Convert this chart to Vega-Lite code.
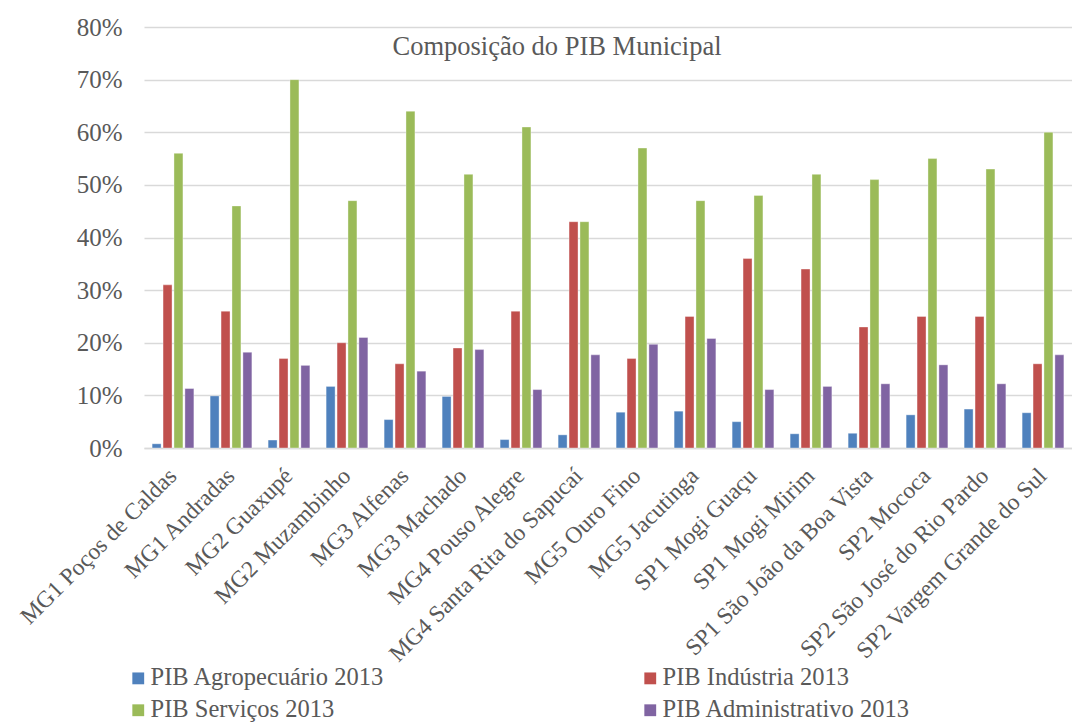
{
  "$schema": "https://vega.github.io/schema/vega-lite/v6.json",
  "width": 928,
  "height": 421,
  "autosize": {"type": "none"},
  "padding": {"left": 144, "top": 27, "right": 0, "bottom": 275},
  "background": "white",
  "title": {
    "text": "Composição do PIB Municipal",
    "font": "Liberation Serif",
    "fontSize": 26.5,
    "fontWeight": "normal",
    "color": "#595959",
    "anchor": "middle",
    "frame": "group",
    "offset": -45,
    "dx": -51
  },
  "config": {
    "view": {"stroke": null},
    "font": "Liberation Serif",
    "axis": {"labelFont": "Liberation Serif", "labelColor": "#595959"}
  },
  "data": {
    "values": [
      {"m": "MG1 Poços de Caldas", "s": "PIB Agropecuário 2013", "v": 0.008},
      {"m": "MG1 Poços de Caldas", "s": "PIB Indústria 2013", "v": 0.31},
      {"m": "MG1 Poços de Caldas", "s": "PIB Serviços 2013", "v": 0.56},
      {"m": "MG1 Poços de Caldas", "s": "PIB Administrativo 2013", "v": 0.113},
      {"m": "MG1 Andradas", "s": "PIB Agropecuário 2013", "v": 0.099},
      {"m": "MG1 Andradas", "s": "PIB Indústria 2013", "v": 0.26},
      {"m": "MG1 Andradas", "s": "PIB Serviços 2013", "v": 0.46},
      {"m": "MG1 Andradas", "s": "PIB Administrativo 2013", "v": 0.182},
      {"m": "MG2 Guaxupé", "s": "PIB Agropecuário 2013", "v": 0.015},
      {"m": "MG2 Guaxupé", "s": "PIB Indústria 2013", "v": 0.17},
      {"m": "MG2 Guaxupé", "s": "PIB Serviços 2013", "v": 0.70},
      {"m": "MG2 Guaxupé", "s": "PIB Administrativo 2013", "v": 0.157},
      {"m": "MG2 Muzambinho", "s": "PIB Agropecuário 2013", "v": 0.117},
      {"m": "MG2 Muzambinho", "s": "PIB Indústria 2013", "v": 0.20},
      {"m": "MG2 Muzambinho", "s": "PIB Serviços 2013", "v": 0.47},
      {"m": "MG2 Muzambinho", "s": "PIB Administrativo 2013", "v": 0.21},
      {"m": "MG3 Alfenas", "s": "PIB Agropecuário 2013", "v": 0.054},
      {"m": "MG3 Alfenas", "s": "PIB Indústria 2013", "v": 0.16},
      {"m": "MG3 Alfenas", "s": "PIB Serviços 2013", "v": 0.64},
      {"m": "MG3 Alfenas", "s": "PIB Administrativo 2013", "v": 0.146},
      {"m": "MG3 Machado", "s": "PIB Agropecuário 2013", "v": 0.098},
      {"m": "MG3 Machado", "s": "PIB Indústria 2013", "v": 0.19},
      {"m": "MG3 Machado", "s": "PIB Serviços 2013", "v": 0.52},
      {"m": "MG3 Machado", "s": "PIB Administrativo 2013", "v": 0.187},
      {"m": "MG4 Pouso Alegre", "s": "PIB Agropecuário 2013", "v": 0.016},
      {"m": "MG4 Pouso Alegre", "s": "PIB Indústria 2013", "v": 0.26},
      {"m": "MG4 Pouso Alegre", "s": "PIB Serviços 2013", "v": 0.61},
      {"m": "MG4 Pouso Alegre", "s": "PIB Administrativo 2013", "v": 0.111},
      {"m": "MG4 Santa Rita do Sapucaí", "s": "PIB Agropecuário 2013", "v": 0.025},
      {"m": "MG4 Santa Rita do Sapucaí", "s": "PIB Indústria 2013", "v": 0.43},
      {"m": "MG4 Santa Rita do Sapucaí", "s": "PIB Serviços 2013", "v": 0.43},
      {"m": "MG4 Santa Rita do Sapucaí", "s": "PIB Administrativo 2013", "v": 0.177},
      {"m": "MG5 Ouro Fino", "s": "PIB Agropecuário 2013", "v": 0.068},
      {"m": "MG5 Ouro Fino", "s": "PIB Indústria 2013", "v": 0.17},
      {"m": "MG5 Ouro Fino", "s": "PIB Serviços 2013", "v": 0.57},
      {"m": "MG5 Ouro Fino", "s": "PIB Administrativo 2013", "v": 0.197},
      {"m": "MG5 Jacutinga", "s": "PIB Agropecuário 2013", "v": 0.070},
      {"m": "MG5 Jacutinga", "s": "PIB Indústria 2013", "v": 0.25},
      {"m": "MG5 Jacutinga", "s": "PIB Serviços 2013", "v": 0.47},
      {"m": "MG5 Jacutinga", "s": "PIB Administrativo 2013", "v": 0.208},
      {"m": "SP1 Mogi Guaçu", "s": "PIB Agropecuário 2013", "v": 0.050},
      {"m": "SP1 Mogi Guaçu", "s": "PIB Indústria 2013", "v": 0.36},
      {"m": "SP1 Mogi Guaçu", "s": "PIB Serviços 2013", "v": 0.48},
      {"m": "SP1 Mogi Guaçu", "s": "PIB Administrativo 2013", "v": 0.111},
      {"m": "SP1 Mogi Mirim", "s": "PIB Agropecuário 2013", "v": 0.027},
      {"m": "SP1 Mogi Mirim", "s": "PIB Indústria 2013", "v": 0.34},
      {"m": "SP1 Mogi Mirim", "s": "PIB Serviços 2013", "v": 0.52},
      {"m": "SP1 Mogi Mirim", "s": "PIB Administrativo 2013", "v": 0.117},
      {"m": "SP1 São João da Boa Vista", "s": "PIB Agropecuário 2013", "v": 0.028},
      {"m": "SP1 São João da Boa Vista", "s": "PIB Indústria 2013", "v": 0.23},
      {"m": "SP1 São João da Boa Vista", "s": "PIB Serviços 2013", "v": 0.51},
      {"m": "SP1 São João da Boa Vista", "s": "PIB Administrativo 2013", "v": 0.122},
      {"m": "SP2 Mococa", "s": "PIB Agropecuário 2013", "v": 0.063},
      {"m": "SP2 Mococa", "s": "PIB Indústria 2013", "v": 0.25},
      {"m": "SP2 Mococa", "s": "PIB Serviços 2013", "v": 0.55},
      {"m": "SP2 Mococa", "s": "PIB Administrativo 2013", "v": 0.158},
      {"m": "SP2 São José do Rio Pardo", "s": "PIB Agropecuário 2013", "v": 0.074},
      {"m": "SP2 São José do Rio Pardo", "s": "PIB Indústria 2013", "v": 0.25},
      {"m": "SP2 São José do Rio Pardo", "s": "PIB Serviços 2013", "v": 0.53},
      {"m": "SP2 São José do Rio Pardo", "s": "PIB Administrativo 2013", "v": 0.122},
      {"m": "SP2 Vargem Grande do Sul", "s": "PIB Agropecuário 2013", "v": 0.067},
      {"m": "SP2 Vargem Grande do Sul", "s": "PIB Indústria 2013", "v": 0.16},
      {"m": "SP2 Vargem Grande do Sul", "s": "PIB Serviços 2013", "v": 0.60},
      {"m": "SP2 Vargem Grande do Sul", "s": "PIB Administrativo 2013", "v": 0.177}
    ]
  },
  "mark": {"type": "bar", "stroke": "white", "strokeWidth": 0.6, "strokeOpacity": 0.6},
  "encoding": {
    "x": {
      "field": "m",
      "type": "nominal",
      "sort": null,
      "title": null,
      "scale": {"paddingInner": 0.28, "paddingOuter": 0.14},
      "axis": {
        "labelAngle": -45,
        "labelFontSize": 23.5,
        "labelPadding": 24,
        "ticks": false,
        "domain": true,
        "domainColor": "#d9d9d9",
        "domainWidth": 1.5,
        "labelLimit": 400,
        "labelAlign": "right",
        "labelBaseline": "middle"
      }
    },
    "xOffset": {
      "field": "s",
      "type": "nominal",
      "sort": ["PIB Agropecuário 2013", "PIB Indústria 2013", "PIB Serviços 2013", "PIB Administrativo 2013"],
      "scale": {"paddingInner": 0.18}
    },
    "y": {
      "field": "v",
      "type": "quantitative",
      "title": null,
      "scale": {"domain": [0, 0.8], "nice": false},
      "axis": {
        "values": [0, 0.1, 0.2, 0.3, 0.4, 0.5, 0.6, 0.7, 0.8],
        "format": ".0%",
        "labelFontSize": 25,
        "labelPadding": 22,
        "ticks": false,
        "domain": false,
        "gridColor": "#d9d9d9",
        "gridWidth": 1.5
      }
    },
    "color": {
      "field": "s",
      "type": "nominal",
      "sort": ["PIB Agropecuário 2013", "PIB Indústria 2013", "PIB Serviços 2013", "PIB Administrativo 2013"],
      "scale": {
        "domain": ["PIB Agropecuário 2013", "PIB Indústria 2013", "PIB Serviços 2013", "PIB Administrativo 2013"],
        "range": ["#4f81bd", "#c0504d", "#9bbb59", "#8064a2"]
      },
      "legend": {
        "title": null,
        "orient": "none",
        "legendX": -18,
        "legendY": 639,
        "direction": "horizontal",
        "columns": 2,
        "columnPadding": 253,
        "rowPadding": 7,
        "symbolType": "square",
        "symbolSize": 140,
        "symbolStrokeWidth": 0,
        "labelFont": "Liberation Serif",
        "labelFontSize": 24.5,
        "labelColor": "#595959",
        "labelOffset": 0,
        "labelLimit": 400
      }
    }
  }
}
